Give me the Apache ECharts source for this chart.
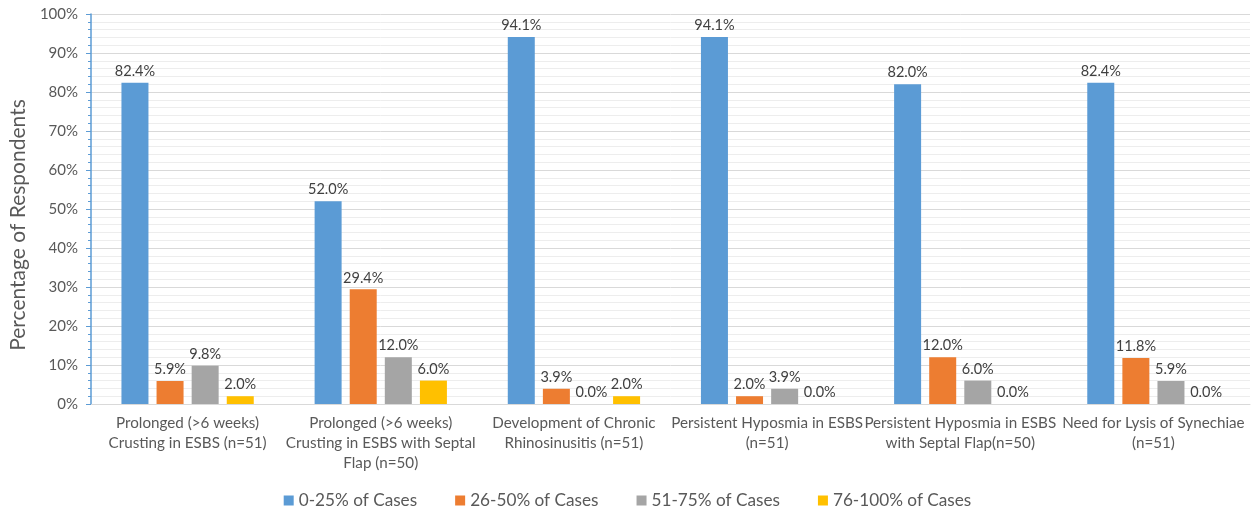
<!DOCTYPE html>
<html>
<head>
<meta charset="utf-8">
<script src="https://cdn.jsdelivr.net/npm/echarts@6/dist/echarts.min.js"></script>
<style>
html,body{margin:0;padding:0;background:#fff;}
#chart{width:1255px;height:514px;}
</style>
</head>
<body>
<div id="chart"></div>
<script>
const categories = [
  'Prolonged (>6 weeks)\nCrusting in ESBS (n=51)',
  'Prolonged (>6 weeks)\nCrusting in ESBS with Septal\nFlap (n=50)',
  'Development of Chronic\nRhinosinusitis (n=51)',
  'Persistent Hyposmia in ESBS\n(n=51)',
  'Persistent Hyposmia in ESBS\nwith Septal Flap(n=50)',
  'Need for Lysis of Synechiae\n(n=51)'
];
const seriesNames = ['0-25% of Cases', '26-50% of Cases', '51-75% of Cases', '76-100% of Cases'];
const cases0to25 = [82.4, 52.0, 94.1, 94.1, 82.0, 82.4];
const cases26to50 = [5.9, 29.4, 3.9, 2.0, 12.0, 11.8];
const cases51to75 = [9.8, 12.0, 0.0, 3.9, 6.0, 5.9];
const cases76to100 = [2.0, 6.0, 2.0, 0.0, 0.0, 0.0];
const yTicks = [0, 10, 20, 30, 40, 50, 60, 70, 80, 90, 100];
const colors = ['#5B9BD5', '#ED7D31', '#A5A5A5', '#FFC000'];

const font = 'Lato, Calibri, "Liberation Sans", sans-serif';
const chart = echarts.init(document.getElementById('chart'), null, {renderer: 'canvas'});
const allData = [cases0to25, cases26to50, cases51to75, cases76to100];
chart.setOption({
  animation: false,
  color: colors,
  textStyle: {fontFamily: font},
  grid: {left: 91, right: 5, top: 14, bottom: 110, containLabel: false},
  legend: {
    bottom: 0,
    left: 'center',
    itemWidth: 10,
    itemHeight: 10,
    itemGap: 38,
    icon: 'rect',
    textStyle: {fontSize: 17.2, color: '#595959', fontFamily: font},
    data: seriesNames
  },
  xAxis: {
    type: 'category',
    data: categories,
    axisLine: {show: true, lineStyle: {color: '#D9D9D9', width: 1}},
    axisTick: {show: false},
    axisLabel: {
      interval: 0,
      color: '#595959',
      fontSize: 15.2,
      lineHeight: 20,
      margin: 9,
      fontFamily: font
    }
  },
  yAxis: {
    type: 'value',
    min: yTicks[0],
    max: yTicks[yTicks.length - 1],
    interval: 10,
    name: 'Percentage of Respondents',
    nameLocation: 'middle',
    nameGap: 57,
    nameTextStyle: {fontSize: 21, color: '#595959', fontFamily: font, padding: [0, 32, 0, 0]},
    axisLine: {show: true, lineStyle: {color: '#5B9BD5', width: 1.5}},
    axisTick: {show: true, length: 5, lineStyle: {color: '#5B9BD5'}},
    minorTick: {show: true, splitNumber: 5, length: 3, lineStyle: {color: '#5B9BD5'}},
    axisLabel: {
      formatter: v => v + '%',
      color: '#595959',
      fontSize: 15,
      margin: 13,
      fontFamily: font
    },
    splitLine: {show: true, lineStyle: {color: '#D9D9D9', width: 1}},
    minorSplitLine: {show: true, lineStyle: {color: '#EDEDED', width: 1}}
  },
  series: seriesNames.map((name, i) => ({
    name: name,
    type: 'bar',
    data: allData[i],
    barWidth: 27,
    barGap: '30%',
    itemStyle: {color: colors[i]},
    label: {
      show: true,
      position: 'top',
      distance: 4,
      formatter: p => p.value.toFixed(1) + '%',
      color: '#404040',
      fontSize: 14.5,
      fontFamily: font
    }
  }))
});
</script>
</body>
</html>
